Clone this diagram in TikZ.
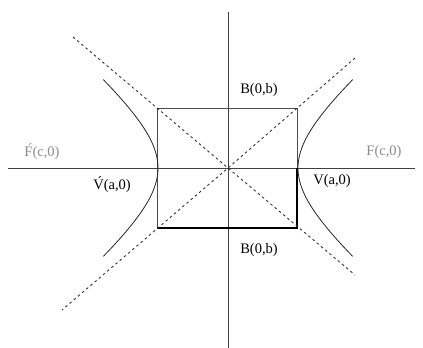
\documentclass[tikz,border=0pt]{standalone}
\usepackage{fontspec}
\setmainfont{Liberation Serif}
\begin{document}
\begin{tikzpicture}[x=1pt,y=-1pt,
  axis/.style={draw=black!75,line width=0.8pt},
  box/.style={draw=black!70,line width=0.9pt},
  asym/.style={draw=black!80,line width=0.9pt,dash pattern=on 2.5pt off 3pt},
  branch/.style={draw=black!85,line width=0.8pt},
  lbl/.style={font=\fontsize{14.5}{16}\selectfont,inner sep=0pt},
  flbl/.style={lbl,text=black!45}]
\useasboundingbox (0,0) rectangle (423,348);
\coordinate (O) at (228,168);
% axes
\coordinate (xl) at (8,168);
\coordinate (xr) at (415,168);
\coordinate (yt) at (228,12);
\coordinate (yb) at (228,348);
\draw[axis] (xl) -- (xr);
\draw[axis] (yt) -- (yb);
% rectangle
\coordinate (r1) at (157,108);
\coordinate (r2) at (297,228);
\draw[box] (r1) rectangle (r2);
\draw[draw=black,line width=1.1pt] (297,168) -- (297,228) -- (157,228);
% asymptotes
\coordinate (a1) at (73,37);
\coordinate (a2) at (355,275);
\coordinate (a3) at (355,58);
\coordinate (a4) at (62,310);
\draw[asym] (a1) -- (O) -- (a2);
\draw[asym] (a3) -- (O) -- (a4);
% hyperbola branches
\draw[branch] plot[domain=-1.18:1.18,samples=60,smooth]
  ({228+70*cosh(\x)},{168+60*sinh(\x)});
\draw[branch] plot[domain=-1.18:1.18,samples=60,smooth]
  ({228-70*cosh(\x)},{168+60*sinh(\x)});
% labels
\node[lbl] (Bt) at (259,90) {B(0,b)};
\node[lbl] (Bb) at (259,250) {B(0,b)};
\node[flbl] (Fl) at (42,152) {\'F(c,0)};
\node[flbl] (Fr) at (384,152) {F(c,0)};
\node[lbl] (Vl) at (112,185) {\'V(a,0)};
\node[lbl] (Vr) at (332,181) {V(a,0)};
\end{tikzpicture}
\end{document}
